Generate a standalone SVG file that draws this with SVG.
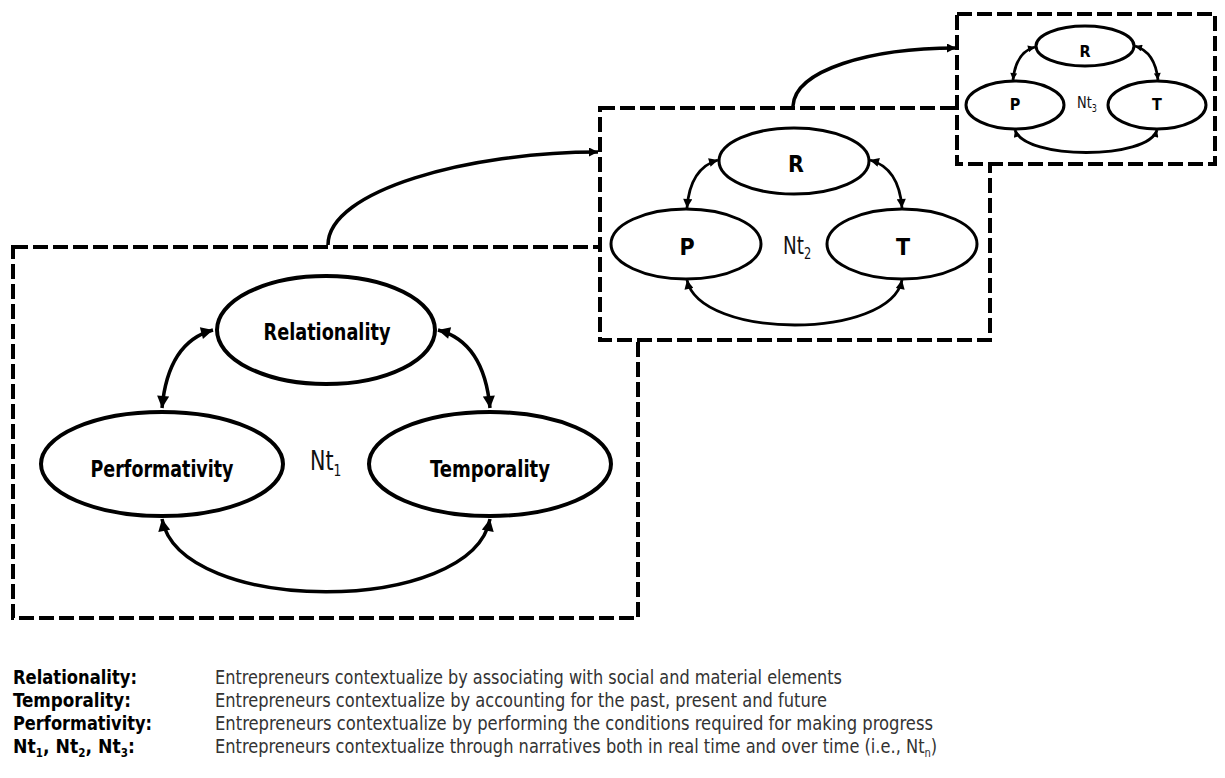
<svg xmlns="http://www.w3.org/2000/svg" width="1225" height="778" viewBox="0 0 1225 778">
<defs>
<style>
.box{fill:#fff;stroke:#000;stroke-width:4;stroke-dasharray:15 5}
.e1{fill:#fff;stroke:#000;stroke-width:4}
.e2{fill:#fff;stroke:#000;stroke-width:3}
.c1{fill:none;stroke:#000;stroke-width:3.5}
.c2{fill:none;stroke:#000;stroke-width:2.8}
.lb{font-family:"Liberation Sans Narrow","DejaVu Sans Condensed","Liberation Sans",sans-serif;font-weight:bold;fill:#000;text-anchor:middle}
.nt{font-family:"Liberation Sans Narrow","DejaVu Sans Condensed","Liberation Sans",sans-serif;fill:#111}
.lg{font-family:"Liberation Sans Narrow","DejaVu Sans Condensed","Liberation Sans",sans-serif;font-weight:bold;font-size:20px;fill:#000}
.ds{font-family:"Liberation Sans Narrow","DejaVu Sans Condensed","Liberation Sans",sans-serif;font-size:19.5px;fill:#333}
</style>
<marker id="aL" viewBox="0 0 10 10" refX="10" refY="5" markerWidth="14" markerHeight="12" markerUnits="userSpaceOnUse" orient="auto-start-reverse"><path d="M0,0 L10,5 L0,10 z" fill="#000"/></marker>
<marker id="aM" viewBox="0 0 10 10" refX="10" refY="5" markerWidth="11" markerHeight="9" markerUnits="userSpaceOnUse" orient="auto-start-reverse"><path d="M0,0 L10,5 L0,10 z" fill="#000"/></marker>
<marker id="aS" viewBox="0 0 10 10" refX="10" refY="5" markerWidth="9" markerHeight="7" markerUnits="userSpaceOnUse" orient="auto-start-reverse"><path d="M0,0 L10,5 L0,10 z" fill="#000"/></marker>
</defs>
<rect width="1225" height="778" fill="#fff"/>

<g id="frame-nt1"><rect class="box" x="13" y="247" width="625" height="371"/></g>
<g id="frame-nt2"><rect class="box" x="600" y="108" width="390" height="232"/></g>
<g id="frame-nt3"><rect class="box" x="957" y="14" width="258" height="150"/></g>

<g id="nt1-relationality"><ellipse class="e1" cx="326" cy="330" rx="109" ry="54"/><text class="lb" x="327" y="340" font-size="23" textLength="127" lengthAdjust="spacingAndGlyphs">Relationality</text></g>
<g id="nt1-performativity"><ellipse class="e1" cx="162" cy="464" rx="121" ry="52"/><text class="lb" x="162" y="477" font-size="23" textLength="143" lengthAdjust="spacingAndGlyphs">Performativity</text></g>
<g id="nt1-temporality"><ellipse class="e1" cx="490" cy="464" rx="121" ry="52"/><text class="lb" x="490" y="477" font-size="23" textLength="120" lengthAdjust="spacingAndGlyphs">Temporality</text></g>
<g id="nt1-label"><text class="nt" transform="translate(310,470) scale(0.85,1)" x="0" y="0" font-size="27">Nt<tspan font-size="16" dy="6">1</tspan></text></g>

<g id="nt2-r"><ellipse class="e2" cx="794" cy="161" rx="75" ry="33"/><text class="lb" x="796" y="172" font-size="23">R</text></g>
<g id="nt2-p"><ellipse class="e2" cx="686" cy="244" rx="75" ry="35"/><text class="lb" x="687" y="255" font-size="23">P</text></g>
<g id="nt2-t"><ellipse class="e2" cx="902" cy="244" rx="75" ry="35"/><text class="lb" x="903" y="255" font-size="23">T</text></g>
<g id="nt2-label"><text class="nt" transform="translate(783,254) scale(0.85,1)" x="0" y="0" font-size="24">Nt<tspan font-size="15" dy="5">2</tspan></text></g>

<g id="nt3-r"><ellipse class="e2" cx="1085" cy="46" rx="49" ry="20"/><text class="lb" x="1085" y="57" font-size="16">R</text></g>
<g id="nt3-p"><ellipse class="e2" cx="1015" cy="105" rx="49" ry="24"/><text class="lb" x="1015" y="110" font-size="16">P</text></g>
<g id="nt3-t"><ellipse class="e2" cx="1157" cy="105" rx="49" ry="24"/><text class="lb" x="1157" y="110" font-size="16">T</text></g>
<g id="nt3-label"><text class="nt" transform="translate(1077,108) scale(0.9,1)" x="0" y="0" font-size="16">Nt<tspan font-size="10" dy="4">3</tspan></text></g>

<g id="connectors">
<path class="c1" d="M162,408 Q168,342 213,330" marker-start="url(#aL)" marker-end="url(#aL)"/>
<path class="c1" d="M490,408 Q484,342 438,330" marker-start="url(#aL)" marker-end="url(#aL)"/>
<path class="c1" d="M162,519 C180,616 472,616 490,519" marker-start="url(#aL)" marker-end="url(#aL)"/>
<path class="c2" d="M687,208 Q690,168 718,160" marker-start="url(#aM)" marker-end="url(#aM)"/>
<path class="c2" d="M902,208 Q899,168 870,160" marker-start="url(#aM)" marker-end="url(#aM)"/>
<path class="c2" d="M687,280 C700,340 890,340 902,280" marker-start="url(#aM)" marker-end="url(#aM)"/>
<path class="c2" d="M1013,80 Q1016,52 1035,47" marker-start="url(#aS)" marker-end="url(#aS)"/>
<path class="c2" d="M1158,80 Q1155,52 1135,46" marker-start="url(#aS)" marker-end="url(#aS)"/>
<path class="c2" d="M1015,130 C1025,160 1148,160 1157,130" marker-start="url(#aS)" marker-end="url(#aS)"/>
<path class="c1" d="M328,245 C328,190 470,152 598,152" marker-end="url(#aM)"/>
<path class="c1" d="M793,106 C795,70 870,48 956,48" marker-end="url(#aM)"/>
</g>

<g id="legend">
<text class="lg" x="13" y="684" textLength="124" lengthAdjust="spacingAndGlyphs">Relationality:</text>
<text class="lg" x="13" y="707" textLength="118" lengthAdjust="spacingAndGlyphs">Temporality:</text>
<text class="lg" x="13" y="730" textLength="139" lengthAdjust="spacingAndGlyphs">Performativity:</text>
<text class="lg" transform="translate(13,753) scale(0.96,1)" x="0" y="0">Nt<tspan font-size="12" dy="4">1</tspan><tspan dy="-4">, Nt</tspan><tspan font-size="12" dy="4">2</tspan><tspan dy="-4">, Nt</tspan><tspan font-size="12" dy="4">3</tspan><tspan dy="-4">:</tspan></text>
<text class="ds" x="215" y="684" textLength="627" lengthAdjust="spacingAndGlyphs">Entrepreneurs contextualize by associating with social and material elements</text>
<text class="ds" x="215" y="707" textLength="612" lengthAdjust="spacingAndGlyphs">Entrepreneurs contextualize by accounting for the past, present and future</text>
<text class="ds" x="215" y="730" textLength="718" lengthAdjust="spacingAndGlyphs">Entrepreneurs contextualize by performing the conditions required for making progress</text>
<text class="ds" transform="translate(215,753) scale(0.926,1)" x="0" y="0">Entrepreneurs contextualize through narratives both in real time and over time (i.e., Nt<tspan font-size="12" dy="4">n</tspan><tspan dy="-4">)</tspan></text>
</g>
</svg>
